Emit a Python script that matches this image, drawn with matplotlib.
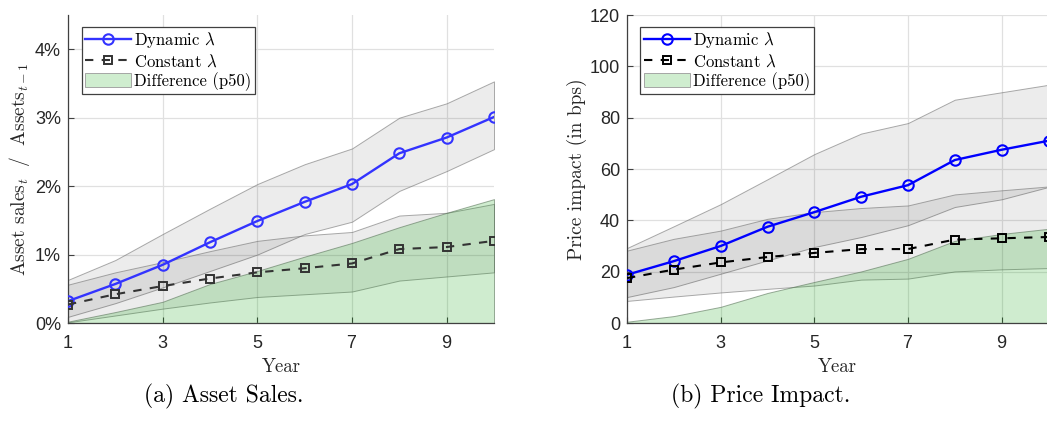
import matplotlib
matplotlib.use('Agg')
import matplotlib.pyplot as plt
from matplotlib.ticker import FuncFormatter, FixedLocator
from matplotlib.patches import Patch

plt.rcParams['font.family'] = 'serif'
plt.rcParams['font.serif'] = ['cmr10']
plt.rcParams['mathtext.fontset'] = 'cm'
plt.rcParams['axes.formatter.use_mathtext'] = True
plt.rcParams['axes.unicode_minus'] = False

# ---------------- data ----------------
years = [1, 2, 3, 4, 5, 6, 7, 8, 9, 10]
xticks = [1, 3, 5, 7, 9]

# Panel (a): asset sales / assets (%)
sales_dynamic = [0.32, 0.57, 0.85, 1.18, 1.49, 1.77, 2.03, 2.48, 2.71, 3.01]
sales_constant = [0.27, 0.42, 0.54, 0.65, 0.74, 0.80, 0.87, 1.08, 1.11, 1.20]
sales_dyn_hi = [0.63, 0.92, 1.30, 1.67, 2.03, 2.32, 2.55, 3.00, 3.21, 3.53]
sales_dyn_lo = [0.09, 0.29, 0.52, 0.76, 1.00, 1.30, 1.48, 1.93, 2.22, 2.54]
sales_con_hi = [0.56, 0.74, 0.89, 1.05, 1.20, 1.28, 1.33, 1.57, 1.61, 1.74]
sales_con_lo = [0.01, 0.11, 0.21, 0.30, 0.38, 0.42, 0.46, 0.62, 0.68, 0.74]
sales_diff = [0.02, 0.16, 0.31, 0.57, 0.76, 0.97, 1.17, 1.40, 1.61, 1.81]
sales_yticks = [0, 1, 2, 3, 4]

# Panel (b): price impact (bps)
impact_dynamic = [18.8, 24.1, 30.0, 37.5, 43.2, 49.2, 53.7, 63.5, 67.5, 71.0]
impact_constant = [17.5, 20.8, 23.6, 25.7, 27.3, 28.8, 28.8, 32.5, 33.0, 33.5]
impact_dyn_hi = [29.2, 37.7, 46.3, 56.0, 65.8, 73.8, 77.9, 87.0, 89.9, 92.8]
impact_dyn_lo = [10.1, 14.0, 19.2, 24.4, 29.6, 33.5, 38.1, 45.2, 48.2, 53.0]
impact_con_hi = [28.2, 32.8, 36.0, 40.6, 43.2, 44.8, 45.8, 50.1, 51.7, 53.2]
impact_con_lo = [8.6, 10.3, 11.9, 13.3, 14.6, 16.9, 17.3, 20.1, 20.9, 21.4]
impact_diff = [0.5, 2.7, 6.3, 11.7, 16.0, 20.1, 25.0, 32.0, 34.7, 36.7]
impact_yticks = [0, 20, 40, 60, 80, 100, 120]

labels = [r'Dynamic $\lambda$', r'Constant $\lambda$', 'Difference (p50)']
captions = ['(a) Asset Sales.', '(b) Price Impact.']

# ---------------- figure ----------------
W, H = 1047, 422
fig = plt.figure(figsize=(W / 100, H / 100), dpi=100)

def px_axes(x0, x1, y0, y1):
    return fig.add_axes([x0 / W, 1 - y1 / H, (x1 - x0) / W, (y1 - y0) / H])

ax1 = px_axes(68, 494, 15, 323)
ax2 = px_axes(627, 1048.5, 15, 323)

band_kw = dict(facecolor=(0, 0, 0, 0.075), edgecolor=(0.45, 0.45, 0.45, 0.6), linewidth=0.7)
green_kw = dict(facecolor=(0.0, 0.62, 0.0, 0.19), edgecolor=(0.35, 0.45, 0.35, 0.6), linewidth=0.7)

def panel(ax, dyn, con, dhi, dlo, chi, clo, diff, ylim, yticks, fmt, ylabel,
          blue, black, ylabelpad):
    ax.fill_between(years, dlo, dhi, **band_kw)
    ax.fill_between(years, clo, chi, **band_kw)
    ax.fill_between(years, 0, diff, **green_kw)
    l1, = ax.plot(years, dyn, color=blue, lw=1.7, marker='o', ms=7.5,
                  mfc='none', mec=blue, mew=1.5, zorder=5)
    l2, = ax.plot(years, con, color=black, lw=1.5, ls=(0, (4, 4)), marker='s',
                  ms=6, mfc='none', mec=black, mew=1.4, zorder=5)
    ax.set_xlim(1, 10)
    ax.set_ylim(*ylim)
    ax.xaxis.set_major_locator(FixedLocator(xticks))
    ax.yaxis.set_major_locator(FixedLocator(yticks))
    ax.yaxis.set_major_formatter(FuncFormatter(fmt))
    ax.grid(True, color='#e0e0e0', lw=0.9)
    ax.set_axisbelow(True)
    for s in ['top', 'right']:
        ax.spines[s].set_visible(False)
    for s in ['left', 'bottom']:
        ax.spines[s].set_color('#404040')
        ax.spines[s].set_linewidth(0.9)
    ax.tick_params(direction='in', length=4, width=0.8, color='#404040',
                   labelsize=13, labelcolor='#262626')
    ax.tick_params(axis='x', pad=9)
    ax.tick_params(axis='y', pad=5)
    for t in ax.get_xticklabels() + ax.get_yticklabels():
        t.set_family('Liberation Sans')
    ax.set_xlabel('Year', fontsize=13.5, color='#262626', labelpad=4)
    ax.set_ylabel(ylabel, fontsize=14, color='#262626', labelpad=ylabelpad)
    patch = Patch(facecolor=(0.81, 0.93, 0.81), edgecolor='#9a9a9a', linewidth=0.6)
    leg = ax.legend([l1, l2, patch], labels, loc='upper left',
                    bbox_to_anchor=(0.032, 0.961), borderaxespad=0,
                    fontsize=12, handlelength=2.75, handletextpad=0.2,
                    borderpad=0.2, labelspacing=0.15, handleheight=0.9,
                    fancybox=False, framealpha=1, edgecolor='#404040')
    leg.get_frame().set_linewidth(0.9)
    return leg

panel(ax1, sales_dynamic, sales_constant, sales_dyn_hi, sales_dyn_lo,
      sales_con_hi, sales_con_lo, sales_diff, (0, 4.5), sales_yticks,
      lambda v, p: f'{v:.0f}%', r'Asset sales$_t$ $\;/\;$ Assets$_{t-1}$',
      '#3333ff', '#333333', 2)
panel(ax2, impact_dynamic, impact_constant, impact_dyn_hi, impact_dyn_lo,
      impact_con_hi, impact_con_lo, impact_diff, (0, 120), impact_yticks,
      lambda v, p: f'{v:.0f}', 'Price impact (in bps)',
      '#0000ff', '#000000', 2)

fig.text(224 / W, 1 - 396 / H, captions[0], ha='center', va='center', fontsize=17)
fig.text(761 / W, 1 - 396 / H, captions[1], ha='center', va='center', fontsize=17)

fig.savefig('out.png', dpi=100)
